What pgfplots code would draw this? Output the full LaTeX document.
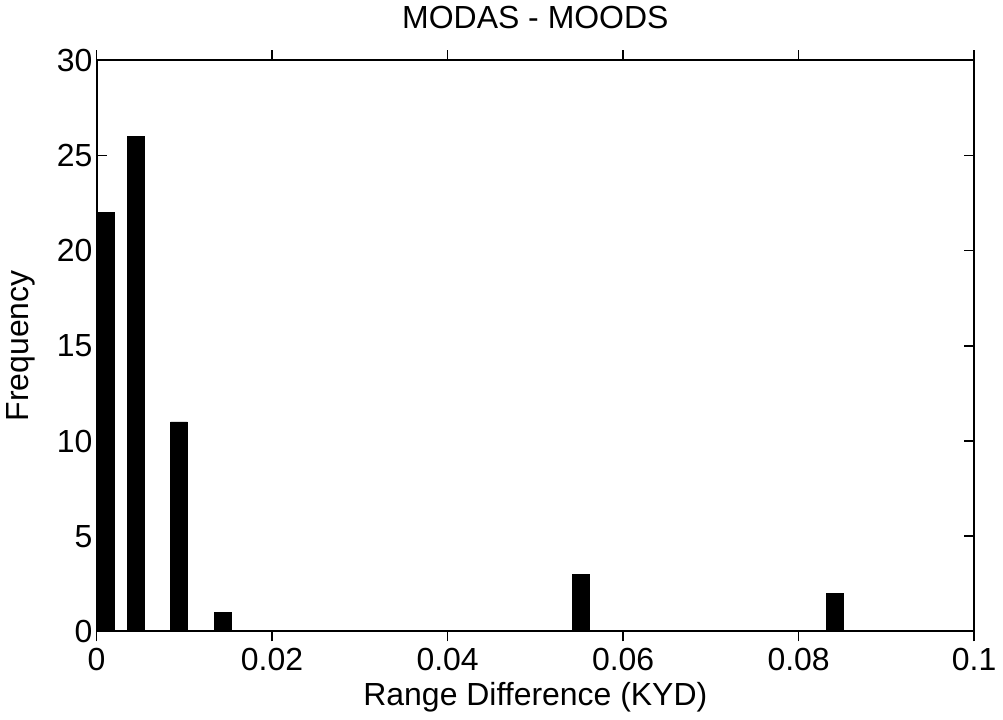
\documentclass[border=0pt]{standalone}
\usepackage{pgfplots}
\pgfplotsset{compat=1.18}
\usepackage{fontspec}
\setmainfont{Liberation Sans}
\begin{document}
\begin{tikzpicture}
\begin{axis}[
    scale only axis,
    width=439.5pt, height=286pt,
    xmin=0, xmax=0.1, ymin=0, ymax=30,
    xtick={0,0.02,0.04,0.06,0.08,0.1},
    xticklabels={0,0.02,0.04,0.06,0.08,0.1},
    ytick={0,5,...,30},
    tick align=inside,
    major tick length=5pt,
    axis line style={line width=1pt},
    tick style={line width=0.7pt, black},
    ticklabel style={font=\fontsize{16}{18}\selectfont},
    yticklabel style={xshift=1.5pt},
    /pgf/number format/assume math mode=true,
    xlabel={Range Difference (KYD)},
    ylabel={Frequency},
    label style={font=\fontsize{16}{18}\selectfont},
    title={MODAS - MOODS},
    title style={font=\fontsize{16}{18}\selectfont, yshift=6pt},
    xlabel style={yshift=1pt},
    ylabel style={yshift=4pt},
    ybar, bar width=0.0019,
    clip=true,
]
\addplot[fill=black, draw=black] coordinates {
    (0.00105,22) (0.0045,26) (0.0094,11) (0.0144,1) (0.0552,3) (0.0841,2)
};
\end{axis}
\end{tikzpicture}
\end{document}
